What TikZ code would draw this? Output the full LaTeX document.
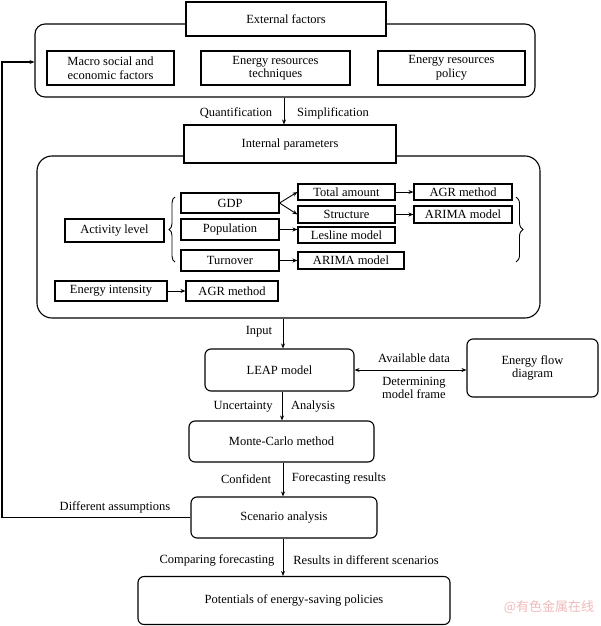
\documentclass[tikz,border=0pt]{standalone}
\usepackage{fontspec}
\setmainfont{Liberation Serif}
\newfontfamily\cjk{Noto Sans CJK SC}
\usetikzlibrary{arrows.meta,decorations.pathreplacing}
\definecolor{wmark}{RGB}{240,185,185}
\begin{document}
\begin{tikzpicture}[x=1pt,y=-1pt,
  every node/.style={font=\fontsize{12.5}{13.5}\selectfont},
  box/.style={draw,line width=1.1pt,fill=white,inner sep=0pt,align=center},
  rbox/.style={box,rounded corners=6pt},
  big/.style={draw,line width=1.1pt,inner sep=0pt},
  lbl/.style={inner sep=0pt,align=center},
  arr/.style={line width=0.9pt,-{Stealth[length=5pt,width=4pt]}},
  brc/.style={decorate,line width=0.9pt},
  ]
\useasboundingbox (0,0) rectangle (600,626);

% outer frames
\node[big,rounded corners=10pt,minimum width=500pt,minimum height=73pt] (bigA) at (285,60.5) {};
\node[big,rounded corners=15pt,minimum width=503pt,minimum height=162pt] (bigB) at (288.5,237) {};

% external factors
\node[box,minimum width=200pt,minimum height=34pt] (ext) at (286,19) {External factors};
\node[box,minimum width=127pt,minimum height=34pt] (macro) at (110.5,68) {Macro social and\\economic factors};
\node[box,minimum width=149pt,minimum height=34pt] (tech) at (275.5,68) {Energy resources\\techniques};
\node[box,minimum width=147pt,minimum height=34pt] (policy) at (451.5,68) {Energy resources\\policy};

% internal parameters
\node[box,minimum width=212pt,minimum height=38pt] (intp) at (290,144) {Internal parameters};
\node[box,minimum width=99pt,minimum height=23pt] (activity) at (114.5,230.5) {Activity level};
\node[box,minimum width=98pt,minimum height=20pt] (gdp) at (230,203) {GDP};
\node[box,minimum width=98pt,minimum height=21pt] (pop) at (230,229.5) {Population};
\node[box,minimum width=98pt,minimum height=21pt] (turn) at (230,260.5) {Turnover};
\node[box,minimum width=97pt,minimum height=16pt] (total) at (346.5,192) {Total amount};
\node[box,minimum width=97pt,minimum height=17pt] (struct) at (346.5,214.5) {Structure};
\node[box,minimum width=97pt,minimum height=16pt] (lesl) at (346.5,235) {Lesline model};
\node[box,minimum width=106pt,minimum height=17pt] (arimaB) at (351,260.5) {ARIMA model};
\node[box,minimum width=98pt,minimum height=16pt] (agrA) at (463,192) {AGR method};
\node[box,minimum width=98pt,minimum height=17pt] (arimaA) at (463,214.5) {ARIMA model};
\node[box,minimum width=112pt,minimum height=20pt] (ei) at (111,291) {Energy intensity};
\node[box,minimum width=92pt,minimum height=20pt] (agrB) at (232,291) {AGR method};

% braces
\draw[brc,decoration={brace,amplitude=6pt}] (175,262) -- (175,197);
\draw[brc,decoration={brace,amplitude=7pt}] (516,197) -- (516,262);

% lower chain
\node[rbox,minimum width=149pt,minimum height=42pt] (leap) at (279.5,370) {LEAP model};
\node[rbox,minimum width=131pt,minimum height=58pt] (efd) at (532.5,368) {Energy flow\\diagram};
\node[rbox,minimum width=185pt,minimum height=41pt] (mc) at (281.5,441.5) {Monte-Carlo method};
\node[rbox,minimum width=186pt,minimum height=41pt] (scen) at (284,517.5) {Scenario analysis};
\node[rbox,minimum width=312pt,minimum height=48pt] (pot) at (294,600.5) {Potentials of energy-saving policies};

% guide coordinates
\coordinate (xa) at (284,0);
\coordinate (xb) at (283,0);
\coordinate (xc) at (282,0);
\coordinate (fb1) at (2,0);
\coordinate (fb2) at (0,62);

% connectors
\draw[arr] (bigA.south -| xa) -- (intp.north -| xa);
\draw[arr] (bigB.south -| xb) -- (leap.north -| xb);
\draw[line width=0.9pt,{Stealth[length=5pt,width=4pt]}-{Stealth[length=5pt,width=4pt]}] (leap.east) -- (efd.west |- leap.east);
\draw[arr] (leap.south -| xc) -- (mc.north -| xc);
\draw[arr] (mc.south -| xb) -- (scen.north -| xb);
\draw[arr] (scen.south -| xb) -- (pot.north -| xb);
\draw[arr,line width=1.4pt] (scen.west) -- (scen.west -| fb1) |- (bigA.west |- fb2);

\draw[arr] (gdp.east) -- (total.west);
\draw[arr] (gdp.east) -- (struct.west);
\draw[arr] (pop.east) -- (lesl.west |- pop.east);
\draw[arr] (turn.east) -- (arimaB.west |- turn.east);
\draw[arr] (total.east) -- (agrA.west);
\draw[arr] (struct.east) -- (arimaA.west);
\draw[arr] (ei.east) -- (agrB.west);

% labels
\node[lbl] (lq) at (236,113) {Quantification};
\node[lbl] (ls) at (333,113) {Simplification};
\node[lbl] (li) at (259,332) {Input};
\node[lbl] (lad) at (414,358) {Available data};
\node[lbl] (ldm) at (414,388) {Determining\\model frame};
\node[lbl] (lu) at (243,407) {Uncertainty};
\node[lbl] (lan) at (313,407) {Analysis};
\node[lbl] (lc) at (246,479) {Confident};
\node[lbl] (lf) at (339,479) {Forecasting results};
\node[lbl] (lda) at (115,507) {Different assumptions};
\node[lbl] (lcf) at (217,560) {Comparing forecasting};
\node[lbl] (lr) at (366,560) {Results in different scenarios};
\node[lbl,text=wmark,font=\cjk\fontsize{13}{14}\selectfont] (wm) at (549,607) {@有色金属在线};
\end{tikzpicture}
\end{document}
